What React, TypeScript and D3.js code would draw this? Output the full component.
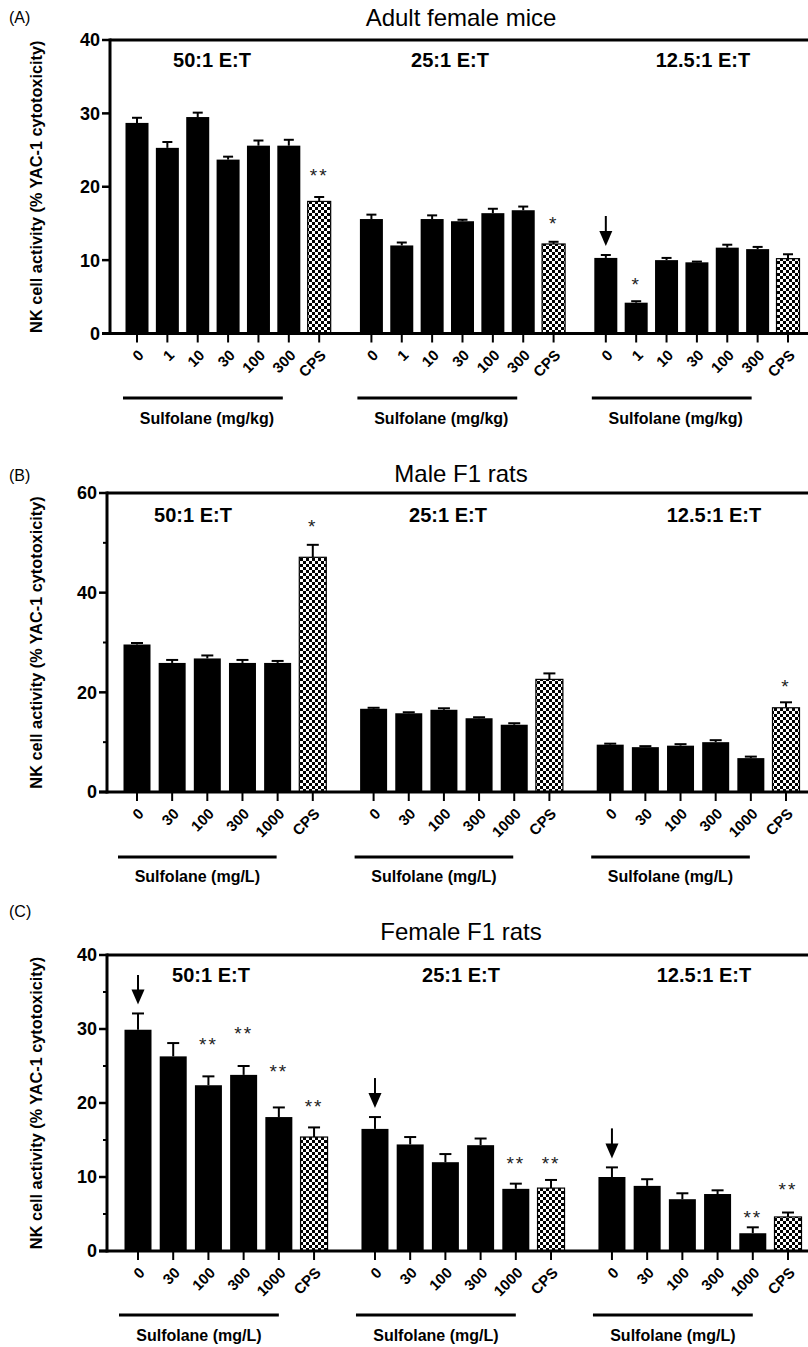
import React from "react";
import * as d3 from "d3";

// ---------- data ----------
const ratios = ["50:1 E:T", "25:1 E:T", "12.5:1 E:T"];
const mouseDoses = ["0", "1", "10", "30", "100", "300", "CPS"];
const ratDoses = ["0", "30", "100", "300", "1000", "CPS"];

const miceMeans = [
  [28.7, 25.3, 29.5, 23.7, 25.6, 25.6, 18.0],
  [15.6, 12.0, 15.6, 15.3, 16.4, 16.8, 12.2],
  [10.3, 4.2, 10.0, 9.7, 11.7, 11.5, 10.2],
];
const miceSem = [
  [0.7, 0.8, 0.6, 0.4, 0.7, 0.8, 0.6],
  [0.6, 0.4, 0.5, 0.2, 0.6, 0.5, 0.3],
  [0.4, 0.2, 0.3, 0.1, 0.4, 0.3, 0.6],
];
const maleMeans = [
  [29.6, 25.9, 26.8, 25.9, 25.9, 47.1],
  [16.7, 15.8, 16.5, 14.8, 13.5, 22.6],
  [9.5, 9.0, 9.3, 10.0, 6.8, 16.9],
];
const maleSem = [
  [0.3, 0.6, 0.6, 0.6, 0.4, 2.5],
  [0.2, 0.2, 0.3, 0.2, 0.3, 1.2],
  [0.2, 0.2, 0.3, 0.4, 0.3, 1.1],
];
const femaleMeans = [
  [29.9, 26.3, 22.4, 23.8, 18.1, 15.4],
  [16.5, 14.4, 12.0, 14.3, 8.4, 8.5],
  [10.0, 8.8, 7.0, 7.7, 2.4, 4.6],
];
const femaleSem = [
  [2.2, 1.8, 1.2, 1.2, 1.3, 1.3],
  [1.6, 1.0, 1.1, 0.9, 0.7, 1.1],
  [1.3, 0.9, 0.8, 0.5, 0.8, 0.6],
];

// significance marks: [group, bar, mark, level (y value)]
const miceStars: [number, number, string, number][] = [
  [0, 6, "**", 22.0],
  [1, 6, "*", 15.5],
  [2, 1, "*", 7.2],
];
const maleStars: [number, number, string, number][] = [
  [0, 5, "*", 54.0],
  [2, 5, "*", 21.9],
];
const femaleStars: [number, number, string, number][] = [
  [0, 2, "**", 28.4],
  [0, 3, "**", 29.9],
  [0, 4, "**", 24.7],
  [0, 5, "**", 20.0],
  [1, 4, "**", 12.3],
  [1, 5, "**", 12.3],
  [2, 4, "**", 5.0],
  [2, 5, "**", 8.8],
];
// reference arrows: [group, bar]
const miceArrows: [number, number][] = [[2, 0]];
const maleArrows: [number, number][] = [];
const femaleArrows: [number, number][] = [[0, 0], [1, 0], [2, 0]];

// ---------- layout ----------
const W = 808;
const H = 1347;
const FONT = "'Liberation Sans', Arial, Helvetica, sans-serif";

interface PanelCfg {
  tag: string;
  tagY: number;
  title: string;
  titleY: number;
  top: number;
  bottom: number;
  axisX: number;
  yMax: number;
  major: number;
  minor: number | null;
  first: number;
  last: number;
  stride: number;
  barW: number;
  capW: number;
  groupLabelX: number[];
  groupLabelY: number;
  lineY: number;
  textY: number;
  ulStart: number;
  ulEnd: number;
  ulTextShift: number;
  doses: string[];
  unit: string;
  means: number[][];
  sem: number[][];
  stars: [number, number, string, number][];
  arrows: [number, number][];
}

const panels: PanelCfg[] = [
  {
    tag: "(A)", tagY: 23, title: "Adult female mice", titleY: 26,
    top: 40, bottom: 333.5, axisX: 110, yMax: 40, major: 10, minor: null,
    first: 137, last: 788, stride: 7.72, barW: 23, capW: 10,
    groupLabelX: [212, 450, 703], groupLabelY: 67,
    lineY: 398, textY: 424, ulStart: -14, ulEnd: -6, ulTextShift: 4,
    doses: mouseDoses, unit: "Sulfolane (mg/kg)",
    means: miceMeans, sem: miceSem, stars: miceStars, arrows: miceArrows,
  },
  {
    tag: "(B)", tagY: 481, title: "Male F1 rats", titleY: 482,
    top: 493, bottom: 792, axisX: 107, yMax: 60, major: 20, minor: 10,
    first: 137, last: 786, stride: 6.73, barW: 27, capW: 12,
    groupLabelX: [193, 448, 714], groupLabelY: 522,
    lineY: 857, textY: 882, ulStart: -19, ulEnd: -1, ulTextShift: 0,
    doses: ratDoses, unit: "Sulfolane (mg/L)",
    means: maleMeans, sem: maleSem, stars: maleStars, arrows: maleArrows,
  },
  {
    tag: "(C)", tagY: 917, title: "Female F1 rats", titleY: 940,
    top: 955, bottom: 1251, axisX: 107, yMax: 40, major: 10, minor: 5,
    first: 138, last: 788, stride: 6.73, barW: 27, capW: 12,
    groupLabelX: [211, 461, 704], groupLabelY: 982,
    lineY: 1315, textY: 1341, ulStart: -19, ulEnd: 0, ulTextShift: 0,
    doses: ratDoses, unit: "Sulfolane (mg/L)",
    means: femaleMeans, sem: femaleSem, stars: femaleStars, arrows: femaleArrows,
  },
];

function Panel({ p }: { p: PanelCfg }) {
  const n = p.doses.length;
  const x = d3.scaleLinear().domain([0, 2 * p.stride + n - 1]).range([p.first, p.last]);
  const y = d3.scaleLinear().domain([0, p.yMax]).range([p.bottom, p.top]);
  const cx = (g: number, i: number) => x(g * p.stride + i);
  const majors = d3.range(0, p.yMax + 0.001, p.major);
  const minors = p.minor ? d3.range(p.minor, p.yMax, p.major) : [];
  const els: React.ReactNode[] = [];

  p.means.forEach((grp, g) => {
    grp.forEach((v, i) => {
      const c = cx(g, i);
      const isCps = p.doses[i] === "CPS";
      const top = y(v);
      const et = y(v + p.sem[g][i]);
      els.push(
        <line key={`e${g}-${i}`} x1={c} x2={c} y1={top} y2={et} stroke="#000" strokeWidth={2} />,
        <line key={`c${g}-${i}`} x1={c - p.capW / 2} x2={c + p.capW / 2} y1={et} y2={et} stroke="#000" strokeWidth={2} />,
        <rect key={`b${g}-${i}`} x={c - p.barW / 2} y={top} width={p.barW} height={p.bottom - top}
          fill={isCps ? "url(#checker)" : "#000"} stroke="#000" strokeWidth={isCps ? 1.2 : 0} />,
        <line key={`t${g}-${i}`} x1={c} x2={c} y1={p.bottom} y2={p.bottom + 9} stroke="#000" strokeWidth={2} />,
        <text key={`l${g}-${i}`} transform={`translate(${c + 4},${p.bottom + 19}) rotate(-45)`}
          textAnchor="end" dy="0.35em" fontSize={15} fontWeight="bold" fontFamily={FONT} fill="#000">{p.doses[i]}</text>
      );
    });
    const x1 = cx(g, 0) + p.ulStart;
    const x2 = cx(g, n - 2) + p.ulEnd;
    els.push(
      <line key={`ul${g}`} x1={x1} x2={x2} y1={p.lineY} y2={p.lineY} stroke="#000" strokeWidth={3} />,
      <text key={`ut${g}`} x={(x1 + x2) / 2 + p.ulTextShift} y={p.textY} textAnchor="middle"
        fontSize={16} fontWeight="bold" fontFamily={FONT} fill="#000">{p.unit}</text>,
      <text key={`gl${g}`} x={p.groupLabelX[g]} y={p.groupLabelY} textAnchor="middle"
        fontSize={20} fontWeight="bold" fontFamily={FONT} fill="#000">{ratios[g]}</text>
    );
  });

  p.stars.forEach(([g, i, m, lvl], k) => {
    els.push(
      <text key={`s${k}`} x={cx(g, i)} y={y(lvl) + 10} textAnchor="middle" fontSize={19}
        letterSpacing={2} fontFamily={FONT} fill="#222">{m}</text>
    );
  });

  p.arrows.forEach(([g, i], k) => {
    const c = cx(g, i);
    const et = y(p.means[g][i] + p.sem[g][i]);
    const tip = et - 9;
    const start = Math.max(tip - 30, p.groupLabelY - 7);
    const headH = Math.min(15, (tip - start) * 0.55);
    els.push(
      <line key={`as${k}`} x1={c} x2={c} y1={start} y2={tip - headH + 1} stroke="#000" strokeWidth={2} />,
      <path key={`ah${k}`} d={`M${c - 6.5},${tip - headH} L${c + 6.5},${tip - headH} L${c},${tip} Z`} fill="#000" />
    );
  });

  return (
    <g>
      <text x={9} y={p.tagY} fontSize={16} fontFamily={FONT} fill="#000">{p.tag}</text>
      <text x={461} y={p.titleY} textAnchor="middle" fontSize={24} fontFamily={FONT} fill="#000">{p.title}</text>
      <text transform={`translate(36,${(p.top + p.bottom) / 2}) rotate(-90)`} textAnchor="middle" dy="0.35em"
        fontSize={16.3} fontWeight="bold" fontFamily={FONT} fill="#000">NK cell activity (% YAC-1 cytotoxicity)</text>
      {els}
      <line x1={p.axisX} x2={p.axisX} y1={p.top - 1.5} y2={p.bottom + 1.5} stroke="#000" strokeWidth={3} />
      <line x1={p.axisX} x2={W} y1={p.top} y2={p.top} stroke="#000" strokeWidth={3} />
      <line x1={p.axisX - 8} x2={W} y1={p.bottom} y2={p.bottom} stroke="#000" strokeWidth={3} />
      {majors.map((v) => (
        <g key={`yt${v}`}>
          <line x1={p.axisX - 8} x2={p.axisX} y1={y(v)} y2={y(v)} stroke="#000" strokeWidth={2.5} />
          <text x={p.axisX - 10} y={y(v)} dy="0.36em" textAnchor="end" fontSize={18} fontWeight="bold"
            fontFamily={FONT} fill="#000">{v}</text>
        </g>
      ))}
      {minors.map((v) => (
        <line key={`ym${v}`} x1={p.axisX - 4} x2={p.axisX} y1={y(v)} y2={y(v)} stroke="#000" strokeWidth={2} />
      ))}
    </g>
  );
}

export default function App() {
  return (
    <svg width={W} height={H} viewBox={`0 0 ${W} ${H}`}
      style={{ position: "absolute", left: 0, top: 0, background: "#fff" }}>
      <defs>
        <pattern id="checker" width={6} height={6} patternUnits="userSpaceOnUse">
          <rect width={6} height={6} fill="#fff" />
          <rect width={3} height={3} fill="#000" />
          <rect x={3} y={3} width={3} height={3} fill="#000" />
        </pattern>
      </defs>
      <rect width={W} height={H} fill="#fff" />
      {panels.map((p) => <Panel key={p.tag} p={p} />)}
    </svg>
  );
}
